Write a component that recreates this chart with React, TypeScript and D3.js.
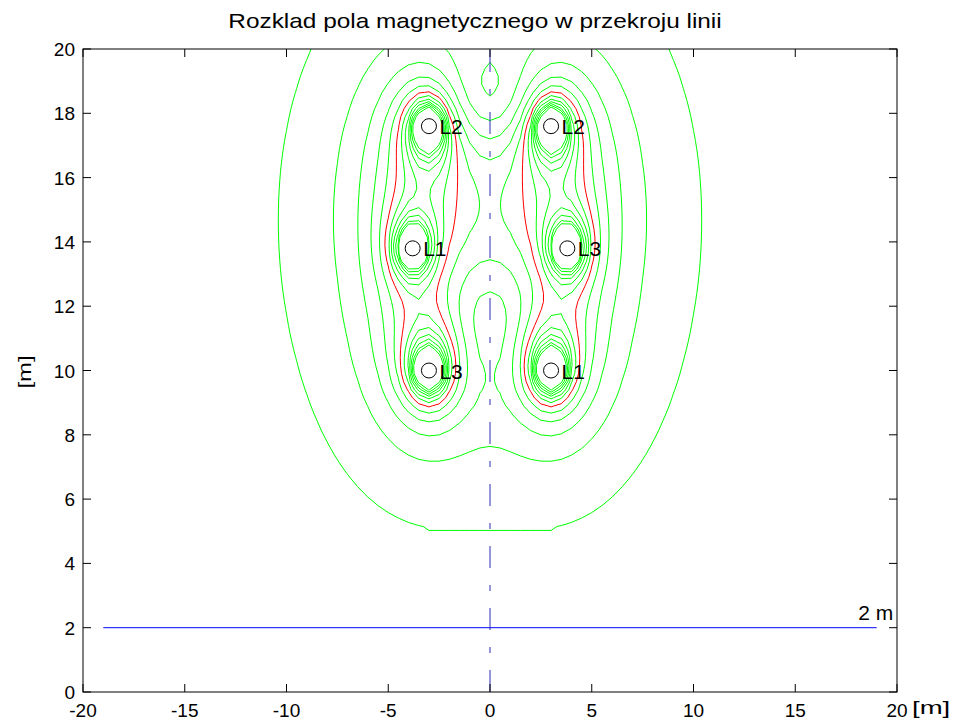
import { useMemo } from "react";
import * as d3 from "d3";

const width = 963;
const height = 722;
const plot = { left: 83, right: 897, top: 49, bottom: 692 };

// conductors of the double-circuit line
const conductorNames = ["L2", "L1", "L3", "L2", "L3", "L1"];
const conductorX = [-3, -3.8, -3, 3, 3.8, 3];
const conductorY = [17.6, 13.8, 10, 17.6, 13.8, 10];
const phaseNames = ["L1", "L2", "L3"];
const phaseDeg = [0, -120, 120];
const currentA = 1000;

// calculation grid [m]
const gridX = [-20, 20];
const gridY = [5.15, 20.15];
const stepX = 0.5;
const stepY = 0.25;

// contour levels [uT]
const greenLevels = [25, 50, 75, 100, 125, 175, 200, 225, 250, 275, 300];
const redLevels = [150];

const xTicks = [-20, -15, -10, -5, 0, 5, 10, 15, 20];
const yTicks = [0, 2, 4, 6, 8, 10, 12, 14, 16, 18, 20];

// rms flux density of all conductors (infinite straight wires)
function fieldAt(px: number, py: number) {
  let bxr = 0, bxi = 0, byr = 0, byi = 0;
  conductorNames.forEach((name, k) => {
    const ph = (phaseDeg[phaseNames.indexOf(name)] * Math.PI) / 180;
    const ir = currentA * Math.cos(ph);
    const ii = currentA * Math.sin(ph);
    const dx = px - conductorX[k];
    const dy = py - conductorY[k];
    const r2 = Math.max(dx * dx + dy * dy, 0.01);
    const c = 0.2 / r2;
    bxr += -c * dy * ir;
    bxi += -c * dy * ii;
    byr += c * dx * ir;
    byi += c * dx * ii;
  });
  return Math.sqrt(bxr * bxr + bxi * bxi + byr * byr + byi * byi);
}

const App = () => {
  const x = d3.scaleLinear().domain([-20, 20]).range([plot.left, plot.right]);
  const y = d3.scaleLinear().domain([0, 20]).range([plot.bottom, plot.top]);

  const paths = useMemo(() => {
    const nx = Math.round((gridX[1] - gridX[0]) / stepX) + 1;
    const ny = Math.round((gridY[1] - gridY[0]) / stepY) + 1;
    const values = new Array(nx * ny);
    for (let j = 0; j < ny; j++) {
      for (let i = 0; i < nx; i++) {
        values[j * nx + i] = fieldAt(gridX[0] + i * stepX, gridY[0] + j * stepY);
      }
    }
    const gen = d3.contours().size([nx, ny]);
    const toPath = (level: number) => {
      const geom = gen.contour(values, level);
      return geom.coordinates
        .map((poly) =>
          poly
            .map(
              (ring) =>
                "M" +
                ring
                  .map(
                    ([cx, cy]) =>
                      `${x(gridX[0] + (cx - 0.5) * stepX).toFixed(2)},${y(
                        gridY[0] + (cy - 0.5) * stepY
                      ).toFixed(2)}`
                  )
                  .join("L") +
                "Z"
            )
            .join("")
        )
        .join("");
    };
    return {
      green: greenLevels.map(toPath),
      red: redLevels.map(toPath),
    };
  }, []);

  const font = "'Liberation Sans', Arial, sans-serif";

  return (
    <svg
      width={width}
      height={height}
      style={{ position: "absolute", left: 0, top: 0, background: "#fff" }}
    >
      <defs>
        <clipPath id="plotArea">
          <rect x={plot.left} y={plot.top} width={plot.right - plot.left} height={plot.bottom - plot.top} />
        </clipPath>
      </defs>
      <rect width={width} height={height} fill="#fff" />
      <g clipPath="url(#plotArea)" fill="none" strokeWidth={1}>
        {paths.green.map((d, i) => (
          <path key={"g" + i} d={d} stroke="#00ff00" />
        ))}
        {paths.red.map((d, i) => (
          <path key={"r" + i} d={d} stroke="#ff0000" />
        ))}
      </g>

      <line x1={x(-19)} x2={x(19)} y1={y(2)} y2={y(2)} stroke="#0000ff" strokeWidth={1} />
      <text x={x(18.1)} y={y(2.24)} fontFamily={font} fontSize={21}>2 m</text>

      <line x1={x(0)} x2={x(0)} y1={y(0)} y2={y(20)} stroke="#2a2ab4" strokeWidth={1} strokeDasharray="22 17 6 17" />

      {conductorNames.map((name, k) => (
        <g key={k}>
          <circle cx={x(conductorX[k])} cy={y(conductorY[k])} r={7.5} fill="none" stroke="#000" strokeWidth={1} />
          <text x={x(conductorX[k]) + 10.5} y={y(conductorY[k]) + 8} fontFamily={font} fontSize={21}>
            {name}
          </text>
        </g>
      ))}

      {/* axes box and ticks */}
      <rect x={plot.left} y={plot.top} width={plot.right - plot.left} height={plot.bottom - plot.top} fill="none" stroke="#000" strokeWidth={1} />
      {xTicks.map((t) => (
        <g key={"xt" + t}>
          <line x1={x(t)} x2={x(t)} y1={plot.bottom} y2={plot.bottom - 8} stroke="#000" />
          <line x1={x(t)} x2={x(t)} y1={plot.top} y2={plot.top + 8} stroke="#000" />
          <text x={x(t)} y={717} textAnchor="middle" fontFamily={font} fontSize={19}>{t}</text>
        </g>
      ))}
      {yTicks.map((t) => (
        <g key={"yt" + t}>
          <line x1={plot.left} x2={plot.left + 8} y1={y(t)} y2={y(t)} stroke="#000" />
          <line x1={plot.right} x2={plot.right - 8} y1={y(t)} y2={y(t)} stroke="#000" />
          <text x={75} y={y(t) + 7} textAnchor="end" fontFamily={font} fontSize={19}>{t}</text>
        </g>
      ))}
      <text transform="translate(912,714) scale(1.45,1)" fontFamily={font} fontSize={19}>[m]</text>
      <text transform="translate(31,372) rotate(-90) scale(1.25,1)" textAnchor="middle" fontFamily={font} fontSize={19}>[m]</text>
      <text transform="translate(475,28) scale(1.22,1)" textAnchor="middle" fontFamily={font} fontSize={20}>
        Rozklad pola magnetycznego w przekroju linii
      </text>
    </svg>
  );
};

export default App;
